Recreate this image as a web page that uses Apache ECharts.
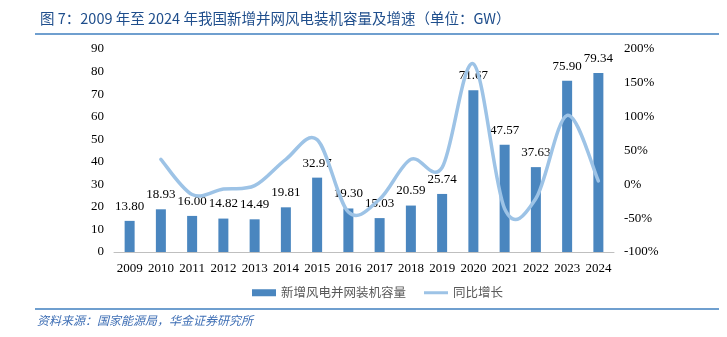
<!DOCTYPE html>
<html><head><meta charset="utf-8">
<script src="https://cdn.jsdelivr.net/npm/echarts@6/dist/echarts.min.js"></script>
<style>html,body{margin:0;padding:0;background:#fff;}#c{width:727px;height:337px;}</style>
</head><body><div id="c"></div>
<script>
var years = ['2009','2010','2011','2012','2013','2014','2015','2016','2017','2018','2019','2020','2021','2022','2023','2024'];
var capacity = [13.80,18.93,16.00,14.82,14.49,19.81,32.97,19.30,15.03,20.59,25.74,71.67,47.57,37.63,75.90,79.34];
var growth = [null,37,-15,-7,-2,37,66,-41,-22,37,25,178,-36,-21,102,5];
var leftTicks = [0,90,10];
var rightTicks = [-100,200,50];

var growthData = [];
growth.forEach(function(v,i){ if(v!==null) growthData.push([i,v]); });

var chart = echarts.init(document.getElementById('c'));
var serif = '"Liberation Serif","Times New Roman",serif';
var cjk = '"Noto Sans CJK SC","Noto Sans",sans-serif';
var lineColor = '#9DC3E6';

function renderSmooth(params, api){
  if(params.dataIndex !== 0) return null;
  var pts = growthData.map(function(d){ return api.coord([d[0], d[1]]); });
  var path = 'M' + pts[0][0] + ',' + pts[0][1];
  for(var i=0;i<pts.length-1;i++){
    var p0 = pts[i>0?i-1:i], p1 = pts[i], p2 = pts[i+1], p3 = pts[i+2<pts.length?i+2:i+1];
    var c1x = p1[0] + (p2[0]-p0[0])/6, c1y = p1[1] + (p2[1]-p0[1])/6;
    var c2x = p2[0] - (p3[0]-p1[0])/6, c2y = p2[1] - (p3[1]-p1[1])/6;
    path += ' C' + c1x + ',' + c1y + ' ' + c2x + ',' + c2y + ' ' + p2[0] + ',' + p2[1];
  }
  return {type:'path', shape:{pathData:path}, style:{stroke:lineColor, lineWidth:3.5, fill:null, lineCap:'round'}};
}

chart.setOption({
  animation:false,
  title:{text:'图 7：2009 年至 2024 年我国新增并网风电装机容量及增速（单位：GW）',left:35,top:6,
    textStyle:{fontFamily:cjk,fontSize:14.5,fontWeight:'normal',color:'#1F4E8C'}},
  graphic:[
    {type:'line',shape:{x1:35,y1:34,x2:719,y2:34},style:{stroke:'#3F7FBF',lineWidth:1.5}},
    {type:'line',shape:{x1:35,y1:309,x2:719,y2:309},style:{stroke:'#3F7FBF',lineWidth:1.5}},
    {type:'text',left:37,top:314,style:{text:'资料来源：国家能源局，华金证券研究所',font:'italic 12px '+cjk,fill:'#3F6FB5'}}
  ],
  grid:{left:114,right:113,top:49,bottom:85},
  legend:{bottom:33,left:247,itemGap:18,itemWidth:24,itemHeight:7,
    textStyle:{fontFamily:cjk,fontSize:12.5,color:'#595959'},
    data:[{name:'新增风电并网装机容量',icon:'rect'},{name:'同比增长',icon:'path://M0,0 L24,0 L24,3 L0,3 Z'}]},
  xAxis:{type:'category',data:years,axisTick:{show:false},
    axisLine:{lineStyle:{color:'#BFBFBF'}},
    axisLabel:{interval:0,fontFamily:serif,fontSize:13,color:'#000',margin:10}},
  yAxis:[
    {type:'value',min:leftTicks[0],max:leftTicks[1],interval:leftTicks[2],splitLine:{show:false},
      axisLine:{show:false},axisTick:{show:false},
      axisLabel:{fontFamily:serif,fontSize:13,color:'#000',margin:10}},
    {type:'value',min:rightTicks[0],max:rightTicks[1],interval:rightTicks[2],splitLine:{show:false},
      axisLine:{show:false},axisTick:{show:false},
      axisLabel:{fontFamily:serif,fontSize:13,color:'#000',margin:10,formatter:'{value}%'}}
  ],
  series:[
    {name:'新增风电并网装机容量',type:'bar',data:capacity,barWidth:10,
      itemStyle:{color:'#4A86BF'},
      label:{show:true,position:'top',distance:8,fontFamily:serif,fontSize:13,color:'#000',
        formatter:function(p){return p.value.toFixed(2);}}},
    {name:'同比增长',type:'custom',yAxisIndex:1,data:growthData,encode:{x:0,y:1},
      renderItem:renderSmooth,itemStyle:{color:lineColor},z:3}
  ]
});
</script></body></html>
